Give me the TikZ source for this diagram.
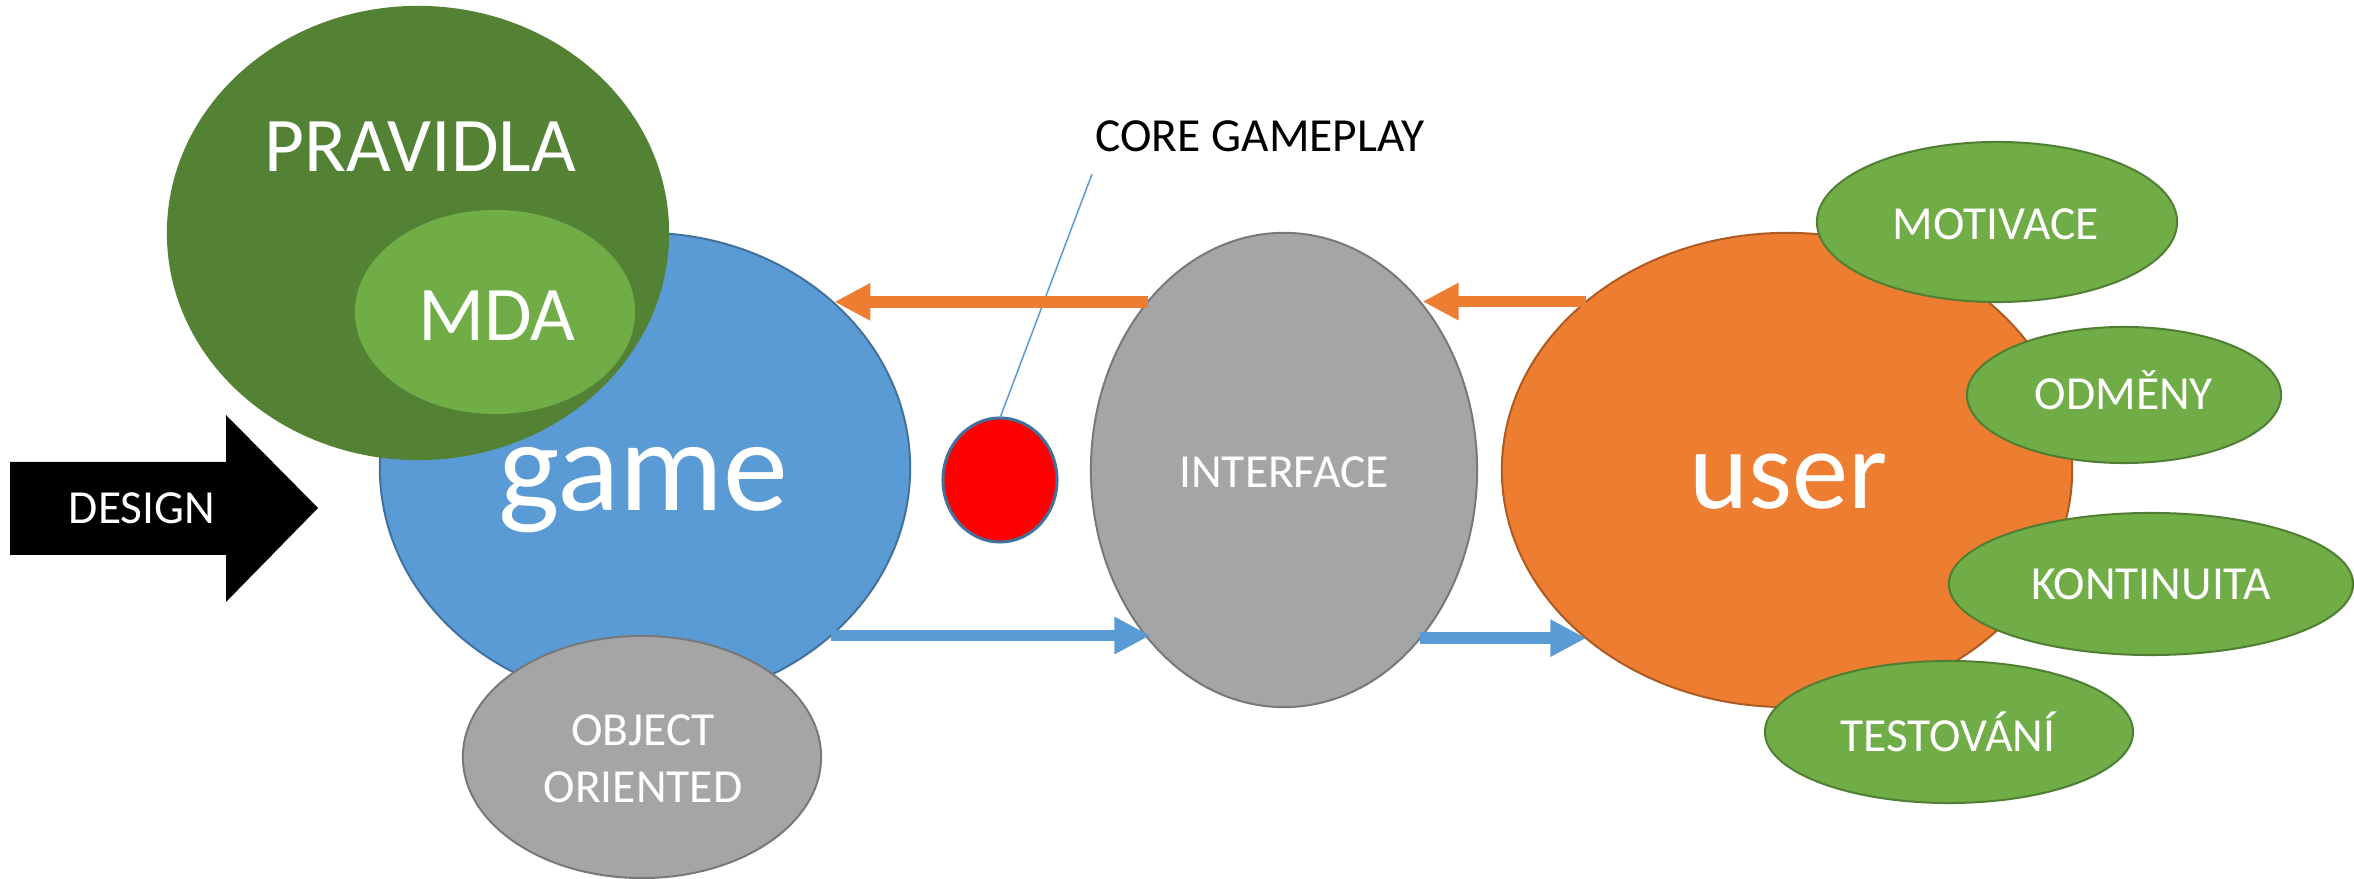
\documentclass[tikz,border=0pt]{standalone}
\usepackage{fontspec}
\setmainfont{Carlito}
\usetikzlibrary{arrows.meta,shapes.geometric}
\definecolor{cblue}{HTML}{5B9BD5}
\definecolor{cblueline}{HTML}{41719C}
\definecolor{cdgreen}{HTML}{548235}
\definecolor{cgreen}{HTML}{70AD47}
\definecolor{cgreenline}{HTML}{507E32}
\definecolor{cgray}{HTML}{A5A5A5}
\definecolor{cgrayline}{HTML}{787878}
\definecolor{corange}{HTML}{ED7D31}
\definecolor{corangeline}{HTML}{AE5A21}
\definecolor{cred}{HTML}{FF0000}
\begin{document}
\begin{tikzpicture}[x=0.01cm,y=0.01cm,
  oval/.style={ellipse, inner sep=0pt, outer sep=0pt, line width=0.02cm},
  lbl/.style={text=white, anchor=base, inner sep=0pt, font=\fontsize{13.5}{16.2}\selectfont},
  biglbl/.style={lbl, font=\fontsize{22}{26}\selectfont},
  oflow/.style={draw=corange, line width=0.116cm, -{Triangle[length=0.36cm,width=0.35cm]}},
  bflow/.style={draw=cblue, line width=0.116cm, -{Triangle[length=0.36cm,width=0.35cm]}},
  callout/.style={draw=cblue, line width=0.015cm}
]
\useasboundingbox (0,0) rectangle (2354,879);

% DESIGN arrow
\fill[black] (10,417) -- (226,417) -- (226,464) -- (318,371) -- (226,277) -- (226,324) -- (10,324) -- cycle;
\node[lbl] (tdesign) at (142,355) {DESIGN};

% game cluster
\node[oval, fill=cblue, draw=cblueline, minimum width=5.30cm, minimum height=4.70cm] (game) at (645,411) {};
\node[oval, fill=cdgreen, minimum width=5.02cm, minimum height=4.54cm] (pravidla) at (418,646) {};
\node[oval, fill=cgreen, minimum width=2.80cm, minimum height=2.04cm] (mda) at (495,567) {};
\node[oval, fill=cgray, draw=cgrayline, minimum width=3.58cm, minimum height=2.42cm] (obj) at (642,122) {};
\node[biglbl] (tpravidla) at (420,707) {PRAVIDLA};
\node[biglbl] (tmda) at (497,538) {MDA};
\node[lbl, font=\fontsize{37}{44}\selectfont] (tgame) at (643,368) {game};
\node[lbl, anchor=center, align=center] (tobj) at (643,120) {OBJECT\\ORIENTED};

% core gameplay
\node[oval, fill=cred, draw=cblueline, line width=0.03cm, minimum width=1.14cm, minimum height=1.24cm] (red) at (1000,399) {};
\coordinate (cgtop) at (1092,705);
\draw[callout] (cgtop) -- (red.north);
\node[lbl, text=black] (tcore) at (1260,727) {CORE GAMEPLAY};

% interface
\node[oval, fill=cgray, draw=cgrayline, minimum width=3.86cm, minimum height=4.74cm] (interface) at (1284,409) {};
\node[lbl] (tinterface) at (1284,391) {INTERFACE};

% user cluster
\node[oval, fill=corange, draw=corangeline, minimum width=5.70cm, minimum height=4.74cm] (user) at (1787,409) {};
\node[lbl, font=\fontsize{32}{38}\selectfont] (tuser) at (1789,370) {user};
\node[oval, fill=cgreen, draw=cgreenline, minimum width=3.60cm, minimum height=1.60cm] (motivace) at (1997,657) {};
\node[oval, fill=cgreen, draw=cgreenline, minimum width=3.14cm, minimum height=1.36cm] (odmeny) at (2124,484) {};
\node[oval, fill=cgreen, draw=cgreenline, minimum width=4.04cm, minimum height=1.42cm] (kontinuita) at (2151,295) {};
\node[oval, fill=cgreen, draw=cgreenline, minimum width=3.68cm, minimum height=1.42cm] (testovani) at (1949,147) {};
\node[lbl] (tmotivace) at (1996,639) {MOTIVACE};
\node[lbl] (todmeny) at (2124,469) {ODMĚNY};
\node[lbl] (tkontinuita) at (2151,279) {KONTINUITA};
\node[lbl] (ttestovani) at (1948,127) {TESTOVÁNÍ};

% flows
\draw[oflow] (interface.129.4) -- (game.41.1 |- interface.129.4);
\draw[oflow] (user.140.1) -- (interface.50.4 |- user.140.1);
\draw[bflow] (game.-42.5) -- (interface.-128.9 |- game.-42.5);
\draw[bflow] (interface.-51.3) -- (user.220.1 |- interface.-51.3);
\end{tikzpicture}
\end{document}
